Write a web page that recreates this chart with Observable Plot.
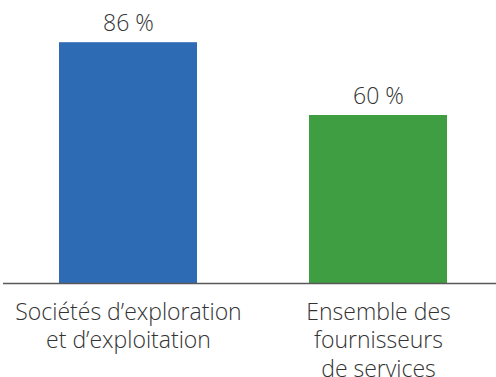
<!DOCTYPE html>
<html>
<head>
<meta charset="utf-8">
<script src="https://cdn.jsdelivr.net/npm/d3@7"></script>
<script src="https://cdn.jsdelivr.net/npm/@observablehq/plot@0.6"></script>
<style>
  html, body { margin: 0; padding: 0; background: #fff; }
  #chart { width: 496px; height: 377px; }
</style>
</head>
<body>
<div id="chart"></div>
<script>
const categories = ["Sociétés d’exploration\net d’exploitation", "Ensemble des\nfournisseurs\nde services"];
const values = [86, 60];
const valueLabels = ["86 %", "60 %"];
const colors = ["#2e6bb5", "#409e42"];

const data = categories.map((c, i) => ({cat: c, value: values[i], label: valueLabels[i], color: colors[i]}));

const chart = Plot.plot({
  width: 496,
  height: 377,
  marginTop: 3,
  marginBottom: 94,
  marginLeft: 14,
  marginRight: 4,
  style: {fontFamily: "'Open Sans', sans-serif", background: "#fff"},
  x: {domain: categories, paddingInner: 0.45, paddingOuter: 0.18, axis: null},
  y: {domain: [0, 100], axis: null},
  marks: [
    Plot.barY(data, {x: "cat", y: "value", fill: "color"}),
    Plot.ruleY([0], {stroke: "#595959", strokeWidth: 1.5, insetLeft: -11, insetRight: -4}),
    Plot.text(data, {x: "cat", y: "value", text: "label", lineAnchor: "bottom", dy: -12, fontSize: 23, fill: "#333", fontWeight: 300}),
    Plot.text(data, {x: "cat", y: 0, text: "cat", lineAnchor: "top", dy: 17, fontSize: 23, lineHeight: 1.22, fill: "#333", fontWeight: 300})
  ]
});
document.getElementById("chart").appendChild(chart);
</script>
</body>
</html>
